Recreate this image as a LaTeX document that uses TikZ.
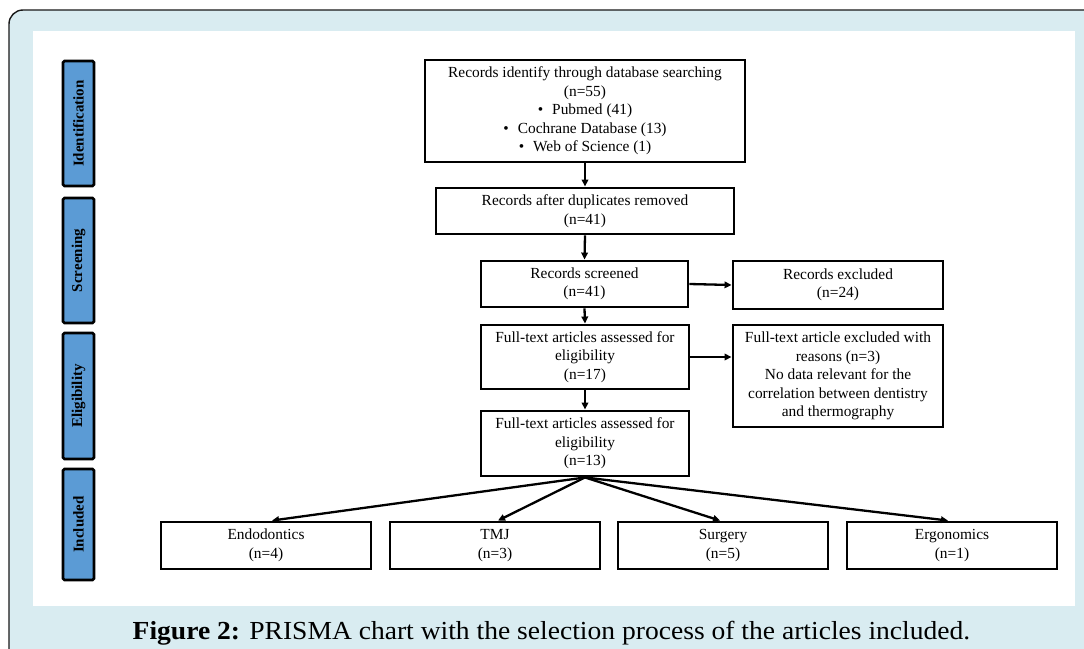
\documentclass[tikz,border=0pt]{standalone}
\usepackage{fontspec}
\setmainfont{Liberation Serif}
\usetikzlibrary{arrows.meta}
\definecolor{frameblue}{HTML}{D9ECF1}
\definecolor{stageblue}{HTML}{5B9BD5}
\begin{document}
\begin{tikzpicture}[x=1pt,y=-1pt,
  box/.style={draw,line width=2.9pt,fill=white,align=center,inner sep=0pt,
    font=\fontsize{15.4}{18.5}\selectfont},
  stage/.style={draw,line width=2.8pt,fill=stageblue,rounded corners=1.5pt,
    minimum height=31pt,inner sep=0pt,font=\bfseries\fontsize{15}{18}\selectfont,rotate=90},
  arr/.style={line width=2.3pt,-{Triangle[length=7pt,width=6.5pt]}}]
\useasboundingbox (0,0) rectangle (1084,648);
\clip (0,0) rectangle (1084,648);
\fill[white] (0,0) rectangle (1084,648);
\fill[frameblue,rounded corners=14pt] (9,670) -- (9,10) -- (1100,10) -- (1100,670) -- cycle;
\draw[black!90,line width=1.4pt,rounded corners=14pt] (9,670) -- (9,10) -- (1100,10);
\fill[white] (33,31) rectangle (1075,606);

% stage labels
\node[stage,minimum width=125pt] (sid) at (78.5,123.5) {Identification};
\node[stage,minimum width=125pt] (sscr) at (78.5,260.5) {Screening};
\node[stage,minimum width=126pt] (selg) at (78.5,396) {Eligibility};
\node[stage,minimum width=111pt] (sinc) at (78.5,524.5) {Included};

% main boxes
\node[box,minimum width=320pt,minimum height=102pt] (ident) at (585,111)
  {Records identify through database searching\\(n=55)\\
   \textbullet\hspace{9pt}Pubmed (41)\\
   \textbullet\hspace{9pt}Cochrane Database (13)\\
   \textbullet\hspace{9pt}Web of Science (1)};
\node[box,minimum width=298pt,minimum height=46pt] (dup) at (585,211)
  {Records after duplicates removed\\(n=41)};
\node[box,minimum width=207pt,minimum height=46pt] (scr) at (584.5,284)
  {Records screened\\(n=41)};
\node[box,minimum width=210pt,minimum height=48pt] (exc) at (838,285)
  {Records excluded\\(n=24)};
\node[box,minimum width=208pt,minimum height=64pt] (ft17) at (585,357)
  {Full-text articles assessed for\\eligibility\\(n=17)};
\node[box,minimum width=210pt,minimum height=102pt] (rea) at (838,376)
  {Full-text article excluded with\\reasons (n=3)\\No data relevant for the\\correlation between dentistry\\and thermography};
\node[box,minimum width=208pt,minimum height=65pt] (ft13) at (585,443.5)
  {Full-text articles assessed for\\eligibility\\(n=13)};

\node[box,minimum width=210pt,minimum height=47pt] (endo) at (266,545.5) {Endodontics\\(n=4)};
\node[box,minimum width=210pt,minimum height=47pt] (tmj) at (495,545.5) {TMJ\\(n=3)};
\node[box,minimum width=210pt,minimum height=47pt] (surg) at (723,545.5) {Surgery\\(n=5)};
\node[box,minimum width=210pt,minimum height=47pt] (ergo) at (952,545.5) {Ergonomics\\(n=1)};

% connectors
\draw[arr] (ident.south) -- (dup.north);
\draw[arr] (dup.south) -- (scr.north);
\draw[arr] (scr.east) -- (exc.west);
\draw[arr] (scr.south) -- (ft17.north);
\draw[arr] (ft17.east) -- (ft17.east -| rea.west);
\draw[arr] (ft17.south) -- (ft13.north);
\draw[arr] (ft13.south) -- ([xshift=6pt]endo.north);
\draw[arr] (ft13.south) -- ([xshift=3pt]tmj.north);
\draw[arr] (ft13.south) -- ([xshift=-3pt]surg.north);
\draw[arr] (ft13.south) -- ([xshift=-4pt]ergo.north);

% caption
\node[anchor=base,inner sep=0pt,font=\fontsize{26}{30}\selectfont] (cap) at (551.5,639)
  {\scalebox{1.06}[1]{\textbf{Figure 2:} PRISMA chart with the selection process of the articles included.}};
\end{tikzpicture}
\end{document}
